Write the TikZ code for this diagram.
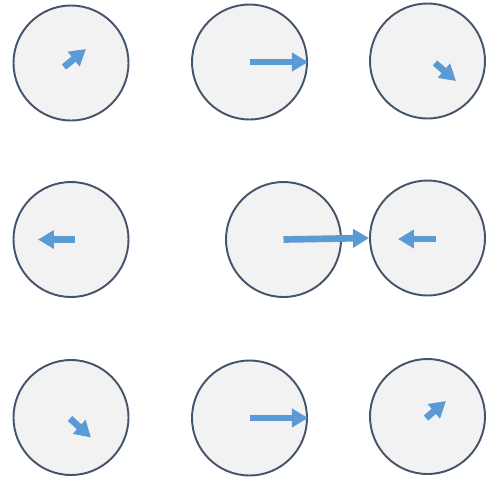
\documentclass[tikz,border=0pt]{standalone}
\usetikzlibrary{calc, arrows.meta}

\definecolor{ballfill}{HTML}{F2F2F2}
\definecolor{balledge}{HTML}{44546A}
\definecolor{pushblue}{HTML}{5B9BD5}

\begin{document}
\begin{tikzpicture}[x=0.02cm, y=-0.02cm,
    ball/.style={circle, draw=balledge, fill=ballfill, line width=1.1pt,
      minimum size=2.3cm, inner sep=0pt},
    push/.style={draw=pushblue, line width=3.8pt,
      -{Triangle[width=0.36cm, length=0.32cm]}}]
  \useasboundingbox (0, 0) rectangle (491, 481);
  % the balls
  \node[ball] (c11) at (71, 63) {};
  \node[ball] (c12) at (249.5, 62) {};
  \node[ball] (c13) at (427.5, 61) {};
  \node[ball] (c21) at (71, 239.5) {};
  \node[ball] (c22) at (283.5, 239.5) {};
  \node[ball] (c23) at (427.5, 238) {};
  \node[ball] (c31) at (71, 417.5) {};
  \node[ball] (c32) at (249.5, 418) {};
  \node[ball] (c33) at (427.5, 416.5) {};
  % the pushes
  \draw[push] ($(c11) + (-7, 4)$) -- ($(c11) + (15, -14)$);
  \draw[push] (c12.center) -- (c12.east);
  \draw[push] ($(c13) + (7.5, 2)$) -- ($(c13) + (28.5, 20)$);
  \draw[push] ($(c21) + (4, 0)$) -- ($(c21) + (-33, 0)$);
  \draw[push] (c22.center) -- (c23.west);
  \draw[push] ($(c23) + (8.5, 1)$) -- ($(c23) + (-29.5, 1)$);
  \draw[push] ($(c31) + (-1, 1)$) -- ($(c31) + (20, 20)$);
  \draw[push] (c32.center) -- (c32.east);
  \draw[push] ($(c33) + (-1.5, 1.5)$) -- ($(c33) + (18.5, -15.5)$);
\end{tikzpicture}
\end{document}
